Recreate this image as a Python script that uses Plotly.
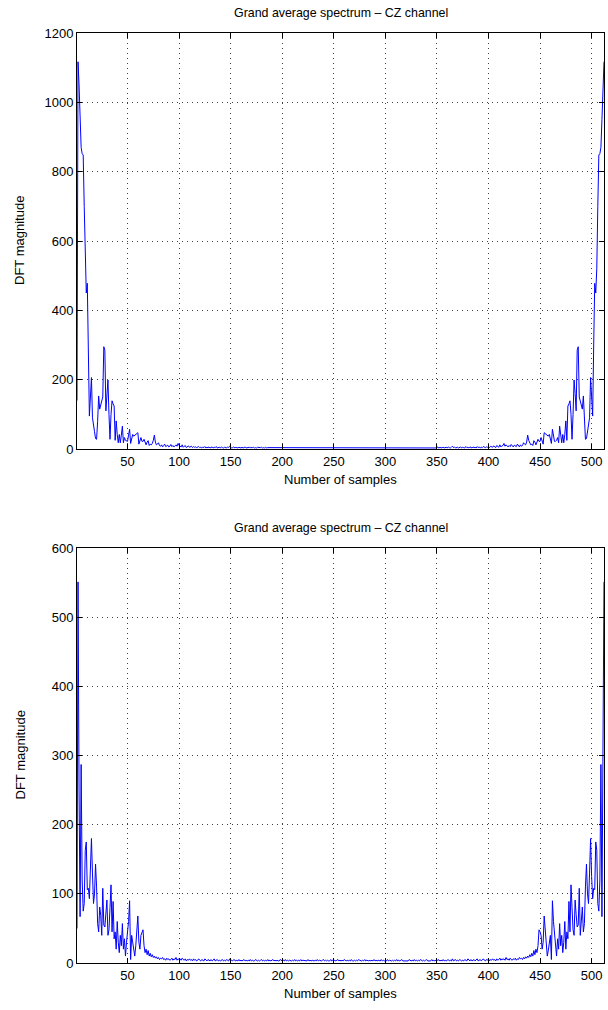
import plotly.graph_objects as go

# Half spectrum (samples 1..257); the DFT magnitude of a real signal is mirror-symmetric
top_half = [
    140, 1117, 1050, 950, 870, 852, 848, 700, 520, 450,
    478, 300, 95, 150, 206, 90, 75, 50, 30, 28,
    80, 153, 115, 130, 140, 150, 295, 285, 110, 160,
    199, 100, 28, 100, 139, 130, 124, 25, 81, 42,
    18, 42, 18, 40, 66, 18, 33, 25, 22, 22,
    40, 57, 16, 30, 42, 37, 39, 42, 45, 47,
    14, 25, 33, 22, 22, 28, 18, 12, 20, 24,
    10, 14, 12, 16, 25, 40, 20, 12, 14, 18,
    10, 8, 12, 6, 10, 14, 7, 9, 11, 6,
    8, 13, 7, 10, 6, 9, 12, 8, 16, 10,
    9, 6, 12, 5, 8, 10, 4, 7, 9, 5,
    6, 8, 4, 7, 5, 6, 4, 5, 7, 4,
    5, 3, 6, 4, 7, 3, 5, 4, 6, 3,
    4, 6, 3, 5, 4, 7, 3, 4, 5, 3,
    6, 4, 3, 5, 4, 3, 6, 4, 8, 5,
    3, 4, 6, 3, 5, 4, 3, 5, 4, 3,
    5, 3, 4, 6, 3, 4, 3, 5, 4, 3,
    4, 5, 3, 4, 3, 5, 4, 3, 4, 5,
    3, 4, 3, 5, 3, 4, 4, 3, 5, 3,
    4, 3, 5, 3, 4, 3, 4, 5, 3, 4,
    3, 4, 3, 4, 5, 3, 4, 3, 4, 3,
    5, 3, 4, 3, 3, 4, 5, 3, 4, 3,
    4, 3, 5, 3, 4, 3, 3, 4, 5, 3,
    3, 4, 3, 5, 3, 4, 3, 4, 3, 5,
    3, 4, 3, 3, 5, 3, 4, 3, 4, 3,
    4, 3, 5, 3, 4, 3, 4,
]

bottom_half = [
    50, 551, 250, 67, 287, 120, 75, 86, 163, 175,
    106, 108, 93, 125, 180, 130, 86, 100, 143, 110,
    57, 45, 81, 69, 40, 108, 55, 52, 70, 91,
    40, 48, 80, 113, 45, 89, 35, 45, 20, 60,
    30, 15, 40, 25, 57, 20, 35, 10, 30, 45,
    60, 90, 5, 40, 30, 18, 10, 25, 45, 68,
    30, 20, 40, 45, 48, 25, 15, 20, 12, 18,
    10, 14, 9, 12, 8, 10, 7, 9, 6, 8,
    5, 7, 6, 8, 5, 6, 4, 7, 5, 6,
    4, 5, 7, 4, 6, 5, 8, 4, 6, 5,
    6, 4, 7, 5, 4, 6, 3, 5, 4, 6,
    4, 5, 3, 6, 4, 5, 3, 4, 6, 4,
    3, 5, 4, 3, 6, 4, 3, 5, 4, 3,
    5, 3, 4, 6, 3, 4, 5, 3, 4, 3,
    4, 5, 3, 4, 3, 5, 4, 3, 6, 3,
    4, 3, 5, 4, 3, 4, 3, 5, 3, 4,
    3, 4, 5, 3, 4, 3, 4, 3, 5, 3,
    4, 3, 3, 5, 4, 3, 4, 3, 4, 5,
    3, 4, 3, 4, 3, 5, 3, 4, 3, 4,
    5, 3, 4, 3, 4, 3, 3, 5, 4, 3,
    4, 3, 5, 3, 4, 3, 4, 3, 3, 4,
    3, 5, 3, 4, 3, 4, 3, 5, 3, 4,
    4, 3, 4, 3, 5, 3, 4, 3, 4, 3,
    3, 4, 3, 5, 3, 4, 3, 3, 4, 5,
    3, 4, 3, 4, 3, 3, 5, 3, 4, 3,
    4, 3, 4, 5, 3, 4, 3,
]

x_ticks = [50, 100, 150, 200, 250, 300, 350, 400, 450, 500]
top_yticks = [0, 200, 400, 600, 800, 1000, 1200]
bottom_yticks = [0, 100, 200, 300, 400, 500, 600]

title_text = "Grand average spectrum \u2013 CZ channel"
xlabel_text = "Number of samples"
ylabel_text = "DFT magnitude"


def mirror_full(h):
    return h + h[-2:0:-1]


top_vals = mirror_full(top_half)
bottom_vals = mirror_full(bottom_half)
samples = list(range(1, len(top_vals) + 1))

W, H = 608, 1010
ML, MR, MT, MB = 77, 4, 33, 47
plot_h = H - MT - MB


def py(p):
    return (H - MB - p) / plot_h


FONT = "Liberation Sans, Arial, Helvetica, sans-serif"

fig = go.Figure()
fig.add_trace(go.Scatter(x=samples, y=top_vals, mode="lines",
                         line=dict(color="#0000ff", width=1),
                         xaxis="x", yaxis="y", showlegend=False))
fig.add_trace(go.Scatter(x=samples, y=bottom_vals, mode="lines",
                         line=dict(color="#0000ff", width=1),
                         xaxis="x2", yaxis="y2", showlegend=False))

axis_common = dict(
    showline=True, linecolor="black", linewidth=1, mirror="ticks",
    ticks="inside", ticklen=5, tickcolor="black", tickwidth=1,
    showgrid=True, gridcolor="rgba(0,0,0,0.75)", gridwidth=1, griddash="1px,4px",
    zeroline=False, tickfont=dict(family=FONT, size=13, color="black"),
)

fig.update_layout(
    width=W, height=H,
    margin=dict(l=ML, r=MR, t=MT, b=MB),
    paper_bgcolor="white", plot_bgcolor="white",
    font=dict(family=FONT, size=13, color="black"),
    xaxis=dict(domain=[0, 1], range=[1, 512], tickvals=x_ticks, anchor="y", **axis_common),
    yaxis=dict(domain=[py(449), 1], range=[0, 1200], tickvals=top_yticks, anchor="x", **axis_common),
    xaxis2=dict(domain=[0, 1], range=[1, 512], tickvals=x_ticks, anchor="y2", **axis_common),
    yaxis2=dict(domain=[0, py(548)], range=[0, 600], tickvals=bottom_yticks, anchor="x2", **axis_common),
)

ann = []
for top_px, bot_px in [(33, 449), (548, 963)]:
    ann.append(dict(text=title_text, x=0.5, y=py(top_px - 20), xref="paper", yref="paper",
                    showarrow=False, xanchor="center", yanchor="middle",
                    font=dict(family=FONT, size=12.4, color="black")))
    ann.append(dict(text=xlabel_text, x=0.5, y=py(bot_px + 30), xref="paper", yref="paper",
                    showarrow=False, xanchor="center", yanchor="middle",
                    font=dict(family=FONT, size=13, color="black")))
    ann.append(dict(text=ylabel_text, x=(20 - ML) / (W - ML - MR), y=py((top_px + bot_px) / 2),
                    xref="paper", yref="paper", textangle=-90,
                    showarrow=False, xanchor="center", yanchor="middle",
                    font=dict(family=FONT, size=13, color="black")))
fig.update_layout(annotations=ann)

fig.write_html("out.html")
